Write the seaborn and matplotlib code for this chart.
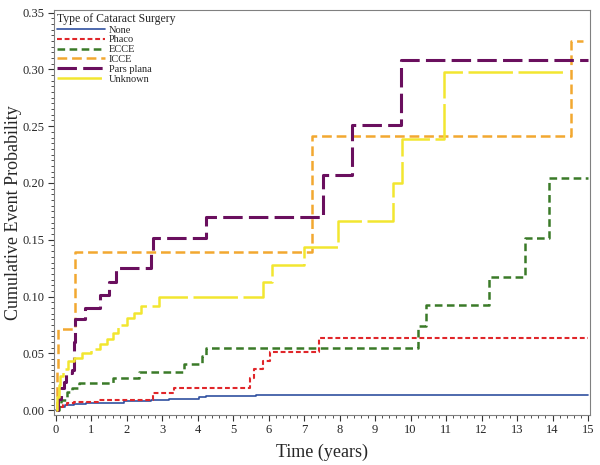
import numpy as np
import pandas as pd
import matplotlib
matplotlib.use("Agg")
import matplotlib.pyplot as plt
from matplotlib.ticker import MultipleLocator, FormatStrFormatter
import seaborn as sns

# step data (time in years, cumulative probability)
none_t = [0, 0.08, 0.25, 0.5, 0.85, 1.45, 1.92, 2.67, 3.2, 4.03, 4.23, 5.63, 15.0]
none_p = [0, 0.003, 0.0044, 0.0053, 0.006, 0.0067, 0.0078, 0.009, 0.0103, 0.0117, 0.0126, 0.0135, 0.0135]

phaco_t = [0, 0.1, 0.2, 0.33, 0.52, 1.22, 2.75, 3.33, 5.46, 5.58, 5.85, 6.05, 7.41, 15.0]
phaco_p = [0, 0.003, 0.005, 0.006, 0.0073, 0.009, 0.0155, 0.0199, 0.028, 0.036, 0.043, 0.051, 0.0638, 0.0638]

ecce_t = [0, 0.1, 0.15, 0.33, 0.47, 0.66, 1.6, 2.35, 3.61, 4.13, 4.24, 10.2, 10.44, 12.22, 13.21, 13.91, 15.0]
ecce_p = [0, 0.005, 0.009, 0.016, 0.020, 0.024, 0.028, 0.0336, 0.041, 0.0477, 0.055, 0.074, 0.0927, 0.117, 0.1515, 0.204, 0.204]

icce_t = [0, 0.03, 0.07, 0.55, 7.22, 14.52, 14.86]
icce_p = [0, 0.035, 0.0715, 0.139, 0.241, 0.325, 0.325]

pars_t = [0, 0.07, 0.15, 0.22, 0.3, 0.45, 0.5, 0.55, 0.83, 1.25, 1.5, 1.71, 2.67, 2.75, 4.24, 7.54, 8.34, 9.73, 15.0]
pars_p = [0, 0.01, 0.02, 0.025, 0.033, 0.035, 0.06, 0.080, 0.090, 0.101, 0.113, 0.125, 0.140, 0.152, 0.170, 0.207, 0.251, 0.3085, 0.3085]

unk_t = [0, 0.04, 0.08, 0.12, 0.19, 0.35, 0.52, 0.75, 1.0, 1.25, 1.45, 1.6, 1.75, 2.0, 2.2, 2.4,
         2.9, 5.84, 6.08, 6.99, 7.95, 9.5, 9.76, 10.93, 14.3]
unk_p = [0, 0.012, 0.022, 0.03, 0.036, 0.043, 0.046, 0.050, 0.054, 0.058, 0.063, 0.068, 0.075, 0.081, 0.086, 0.092,
         0.100, 0.113, 0.128, 0.1436, 0.1667, 0.200, 0.239, 0.2977, 0.2977]

groups = ["None", "Phaco", "ECCE", "ICCE", "Pars plana", "Unknown"]
series = {
    "None": (none_t, none_p),
    "Phaco": (phaco_t, phaco_p),
    "ECCE": (ecce_t, ecce_p),
    "ICCE": (icce_t, icce_p),
    "Pars plana": (pars_t, pars_p),
    "Unknown": (unk_t, unk_p),
}
colors = {"None": "#3050a0", "Phaco": "#e0262a", "ECCE": "#3a7a28",
          "ICCE": "#f2a830", "Pars plana": "#6a0f5e", "Unknown": "#f2e630"}
styles = {"None": "-", "Phaco": (0, (3.5, 2)), "ECCE": (0, (5.5, 3.2)),
          "ICCE": (0, (7, 3.5)), "Pars plana": (0, (14, 4.5)), "Unknown": (0, (32, 4))}
widths = {"None": 1.2, "Phaco": 1.5, "ECCE": 1.8, "ICCE": 1.8, "Pars plana": 2.2, "Unknown": 1.8}

sns.set_style("ticks")
plt.rcParams["font.family"] = ["Liberation Serif", "DejaVu Serif"]
plt.rcParams["lines.scale_dashes"] = False

fig, ax = plt.subplots(figsize=(6, 4.65), dpi=100)
fig.subplots_adjust(left=0.09, right=0.983, top=0.978, bottom=0.108)

for g in groups:
    t, p = series[g]
    df = pd.DataFrame({"t": t, "p": p})
    sns.lineplot(data=df, x="t", y="p", ax=ax, color=colors[g], linestyle=styles[g],
                 linewidth=widths[g], drawstyle="steps-post", estimator=None, sort=False, label=g)

ax.set_xlim(-0.05, 15.05)
ax.set_ylim(-0.004, 0.352)
ax.xaxis.set_major_locator(MultipleLocator(1))
ax.xaxis.set_minor_locator(MultipleLocator(0.2))
ax.yaxis.set_major_locator(MultipleLocator(0.05))
ax.yaxis.set_minor_locator(MultipleLocator(0.005))
ax.yaxis.set_major_formatter(FormatStrFormatter("%.2f"))
ax.tick_params(which="major", length=4, width=0.8, labelsize=9, color="#333333", pad=2.5)
ax.tick_params(which="minor", length=2, width=0.6, color="#333333")
for s in ax.spines.values():
    s.set_visible(True)
    s.set_color("#808080")
    s.set_linewidth(0.8)

ax.set_xlabel("Time (years)", fontsize=13, labelpad=6)
ax.set_ylabel("Cumulative Event Probability", fontsize=13, labelpad=1)

leg = ax.legend(title="Type of Cataract Surgery", loc="upper left", frameon=False, fontsize=7.5,
                title_fontsize=8.5, handlelength=4.6, labelspacing=0.05, borderaxespad=0.15,
                handletextpad=0.4, borderpad=0.1)
leg._legend_box.align = "left"

fig.savefig("out.png", dpi=100)
